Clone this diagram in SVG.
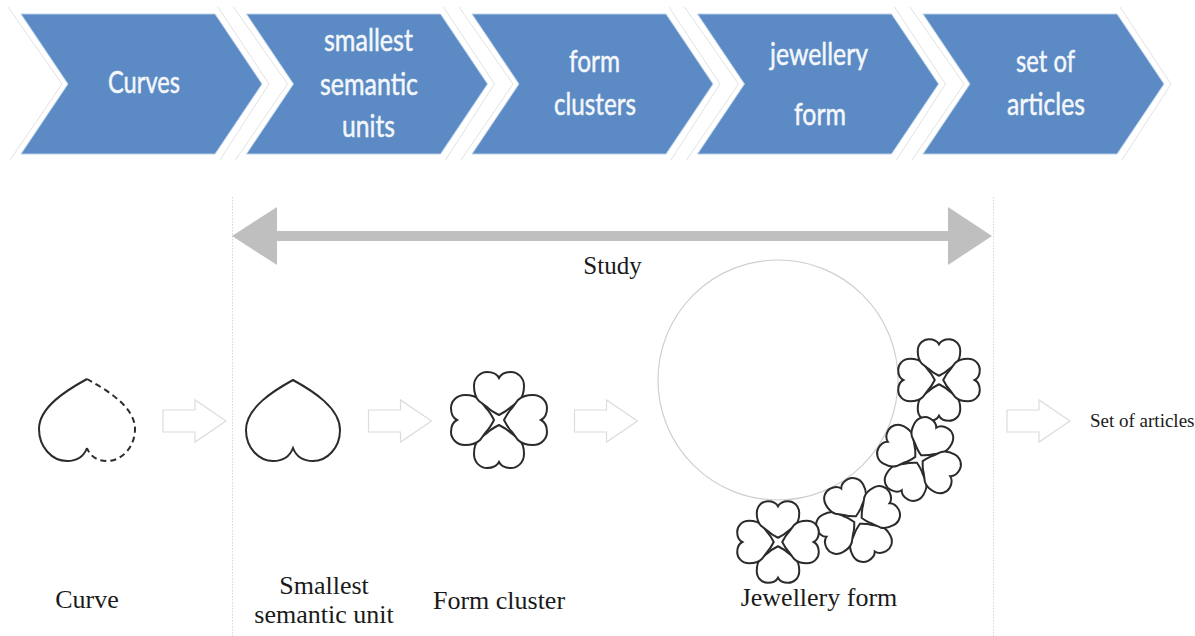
<svg xmlns="http://www.w3.org/2000/svg" xmlns:xlink="http://www.w3.org/1999/xlink" width="1195" height="636" viewBox="0 0 1195 636">
<style>
.chev{fill:#5b8ac4;stroke:#b9d0e8;stroke-width:1}
.ghost{fill:none;stroke:#e2e2e2;stroke-width:1}
.ct{font-family:"Lato","Liberation Sans",sans-serif;font-size:31px;fill:#f4f7fb;stroke:#f4f7fb;stroke-width:.5}
.lb{font-family:"Liberation Serif",serif;font-size:26px;fill:#1a1a1a;text-anchor:middle}
.hollow{fill:#fff;stroke:#dcdcdc;stroke-width:1.2}
.hs{fill:#fff;stroke:#2b2b2b;stroke-width:2;vector-effect:non-scaling-stroke}
.bound{stroke:#d6d6d6;stroke-width:1;stroke-dasharray:1.5 1.5;fill:none}
</style>
<defs>
<path id="heart" class="hs" d="M0,0C-20,11 -47,28 -47,50C-47,68 -34,81 -20,81C-10,81 -3,76 0,68C3,76 10,81 20,81C34,81 47,68 47,50C47,28 20,11 0,0Z"/>
<path id="petal" class="hs" d="M0,0C-5,2.500 -9,5 -12,8L-20,14C-24,18 -25,24 -25,29C-25,38 -18,43 -12,43C-6,43 -2,41 0,37C2,41 6,43 12,43C18,43 25,38 25,29C25,24 24,18 20,14L12,8C9,5 5,2.500 0,0Z"/>
<polygon id="chevShape" class="chev" points="21,14 215,14 262,84 215,154 21,154 68,84"/>
<path id="chevGhost" class="ghost" d="M8,7L62,84L10,160M218,7L269,84L220,160"/>
<polygon id="hollowArrow" class="hollow" points="0,-11 32,-11 32,-21 63,0 32,21 32,11 0,11"/>
<g id="cluster">
<use xlink:href="#petal" transform="translate(0,5)"/>
<use xlink:href="#petal" transform="rotate(90) translate(0,5)"/>
<use xlink:href="#petal" transform="rotate(180) translate(0,5)"/>
<use xlink:href="#petal" transform="rotate(270) translate(0,5)"/>
</g>
</defs>
<rect width="1195" height="636" fill="#fff"/>
<g id="step-curves">
<use xlink:href="#chevGhost"/><use xlink:href="#chevShape"/>
<text class="ct" x="108" y="93" textLength="72" lengthAdjust="spacingAndGlyphs">Curves</text>
</g>
<g id="step-units" transform="translate(225.5,0)">
<use xlink:href="#chevGhost"/><use xlink:href="#chevShape"/>
<text class="ct" x="98.5" y="51" textLength="89" lengthAdjust="spacingAndGlyphs">smallest</text>
<text class="ct" x="94.5" y="95" textLength="98" lengthAdjust="spacingAndGlyphs">semantic</text>
<text class="ct" x="116.5" y="137" textLength="53" lengthAdjust="spacingAndGlyphs">units</text>
</g>
<g id="step-clusters" transform="translate(451,0)">
<use xlink:href="#chevGhost"/><use xlink:href="#chevShape"/>
<text class="ct" x="118" y="71.5" textLength="51" lengthAdjust="spacingAndGlyphs">form</text>
<text class="ct" x="103" y="115" textLength="82" lengthAdjust="spacingAndGlyphs">clusters</text>
</g>
<g id="step-form" transform="translate(676.5,0)">
<use xlink:href="#chevGhost"/><use xlink:href="#chevShape"/>
<text class="ct" x="93.5" y="65" textLength="98" lengthAdjust="spacingAndGlyphs">jewellery</text>
<text class="ct" x="117.5" y="125" textLength="52" lengthAdjust="spacingAndGlyphs">form</text>
</g>
<g id="step-articles" transform="translate(902,0)">
<use xlink:href="#chevGhost"/><use xlink:href="#chevShape"/>
<text class="ct" x="114" y="71.5" textLength="59" lengthAdjust="spacingAndGlyphs">set of</text>
<text class="ct" x="105" y="115" textLength="78" lengthAdjust="spacingAndGlyphs">articles</text>
</g>
<g id="connectors">
<path class="bound" d="M232.5,197V636M993.5,197V636"/>
<polygon id="study-arrow" fill="#bfbfbf" points="232,236 277,207 277,231 948,231 948,207 992,236 948,265 948,241 277,241 277,265"/>
<use xlink:href="#hollowArrow" x="163" y="421"/>
<use xlink:href="#hollowArrow" x="368.500" y="421"/>
<use xlink:href="#hollowArrow" x="574.500" y="421"/>
<use xlink:href="#hollowArrow" x="1007" y="421"/>
</g>
<g id="study-label"><text class="lb" x="612.500" y="274" style="font-size:25px">Study</text></g>
<g id="curve">
<path fill="none" stroke="#2b2b2b" stroke-width="2" d="M87,379C67,390 39,407 39,429C39,447 52,461 67,461C77,461 84,456 87,448"/>
<path fill="none" stroke="#2b2b2b" stroke-width="2" stroke-dasharray="6 4" d="M87,379C107,390 135,407 135,429C135,447 122,461 107,461C97,461 90,456 87,448"/>
<text class="lb" x="87" y="608">Curve</text>
</g>
<g id="semantic-unit">
<use xlink:href="#heart" transform="translate(293,380)"/>
<text class="lb" x="324" y="594">Smallest</text>
<text class="lb" x="324" y="623">semantic unit</text>
</g>
<g id="form-cluster">
<use xlink:href="#cluster" transform="translate(499,420)"/>
<text class="lb" x="499" y="609">Form cluster</text>
</g>
<g id="jewellery-form">
<circle cx="778" cy="380" r="120" fill="none" stroke="#cfcfcf" stroke-width="1.2"/>
<use xlink:href="#cluster" transform="translate(939,380) scale(.85)"/>
<use xlink:href="#cluster" transform="translate(919,459) rotate(29) scale(.85)"/>
<use xlink:href="#cluster" transform="translate(858,520) rotate(-28) scale(.85)"/>
<use xlink:href="#cluster" transform="translate(778,542) scale(.85)"/>
<text class="lb" x="819" y="606">Jewellery form</text>
</g>
<g id="set-of-articles"><text class="lb" style="font-size:19px;text-anchor:start" x="1090" y="427">Set of articles</text></g>
</svg>
